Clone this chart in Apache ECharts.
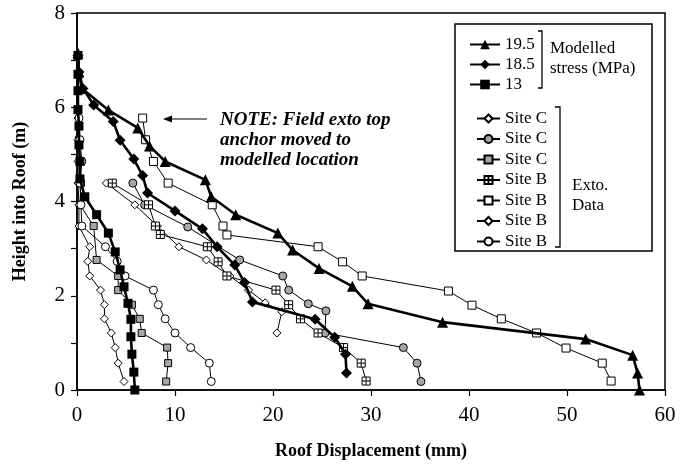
<!DOCTYPE html>
<html>
<head>
<meta charset="utf-8">
<script src="https://cdn.jsdelivr.net/npm/echarts@6/dist/echarts.min.js"></script>
<style>
  html, body { margin: 0; padding: 0; background: #fff; }
  #chart { width: 694px; height: 470px; }
</style>
</head>
<body>
<div id="chart"></div>
<script>
// Axis ticks
const xTicks = [0, 10, 20, 30, 40, 50, 60];
const yTicks = [0, 2, 4, 6, 8];

// Modelled roof displacement profiles [displacement mm, height m]
const model195 = [[0.1,7.15],[0.2,6.75],[0.5,6.4],[3.2,5.94],[6.2,5.56],[7.4,5.18],[9.0,4.85],[13.1,4.46],[13.7,4.1],[16.2,3.72],[20.5,3.33],[22.0,2.97],[24.7,2.58],[28.1,2.2],[29.7,1.83],[37.3,1.44],[51.9,1.08],[56.7,0.74],[57.2,0.36],[57.4,0]];
const model185 = [[0.1,7.1],[0.2,6.75],[0.6,6.4],[1.7,6.05],[3.7,5.7],[4.4,5.3],[5.8,4.9],[6.7,4.55],[7.2,4.18],[10.0,3.8],[12.8,3.42],[14.3,3.04],[16.1,2.65],[17.1,2.28],[17.9,1.87],[24.3,1.5],[26.3,1.12],[27.4,0.76],[27.5,0.36]];
const model13  = [[0.1,7.1],[0.1,6.7],[0.1,6.35],[0.1,5.95],[0.2,5.6],[0.2,5.2],[0.3,4.85],[0.3,4.48],[0.8,4.1],[2.0,3.72],[3.2,3.33],[3.9,2.93],[4.4,2.55],[4.8,2.19],[5.2,1.84],[5.5,1.5],[5.5,1.13],[5.6,0.76],[5.8,0.38],[5.9,0]];

// Extensometer readings [displacement mm, height m]
const siteC1 = [[3.0,4.39],[5.9,3.93],[8.2,3.48],[10.4,3.04],[13.2,2.76],[15.6,2.42],[17.5,2.12],[19.2,1.85],[20.9,1.66],[20.4,1.21]];
const siteC2 = [[5.7,4.39],[6.9,3.93],[11.3,3.46],[16.6,2.76],[21.0,2.42],[21.6,2.12],[23.6,1.83],[25.4,1.68],[25.3,1.21],[33.3,0.9],[34.7,0.57],[35.1,0.18]];
const siteC3 = [[0.2,5.31],[0.3,4.85],[0.4,4.39],[0.3,3.93],[1.7,3.48],[2.0,2.76],[4.2,2.42],[4.2,2.12],[5.6,1.81],[6.4,1.51],[6.6,1.21],[9.2,0.9],[9.3,0.57],[9.1,0.18]];
const siteB4 = [[3.6,4.39],[7.3,3.93],[8.0,3.48],[8.5,3.3],[13.3,3.04],[14.4,2.72],[15.3,2.42],[20.3,2.12],[21.6,1.81],[22.8,1.51],[24.6,1.21],[27.2,0.9],[29.0,0.57],[29.5,0.19]];
const siteB5 = [[6.7,5.77],[7.0,5.31],[7.8,4.85],[9.3,4.39],[13.8,3.93],[14.9,3.48],[15.3,3.29],[24.6,3.04],[27.1,2.72],[29.1,2.42],[37.9,2.1],[40.3,1.8],[43.3,1.51],[46.9,1.21],[49.9,0.89],[53.6,0.57],[54.5,0.19]];
const siteB6 = [[0.1,5.77],[0.1,5.31],[0.1,4.85],[0.1,4.39],[0.2,3.93],[0.2,3.48],[1.3,3.04],[1.1,2.73],[1.3,2.42],[2.4,2.12],[2.8,1.81],[2.8,1.51],[3.5,1.21],[3.9,0.9],[4.2,0.57],[4.8,0.18]];
const siteB7 = [[0.2,5.77],[0.3,5.31],[0.5,4.85],[0.3,4.39],[0.4,3.93],[0.5,3.48],[2.9,3.04],[4.1,2.73],[4.9,2.42],[7.8,2.12],[8.3,1.81],[9.0,1.51],[10.0,1.21],[11.6,0.9],[13.5,0.57],[13.7,0.18]];

const SERIF = '"Liberation Serif", "Times New Roman", serif';
const GREY = '#a6a6a6';
const crossSquare = 'path://M0,0L10,0L10,10L0,10Z M5,0L5,10 M0,5L10,5';

function modelled(name, data, symbol, size) {
  return {
    name, type: 'line', data, symbol, symbolSize: size,
    showSymbol: true, animation: false, z: 3,
    lineStyle: { color: '#000', width: 2.6 },
    itemStyle: { color: '#000', borderColor: '#000', borderWidth: 0 }
  };
}
function exto(name, data, symbol, fill, size) {
  return {
    name, type: 'line', data, symbol, symbolSize: size,
    showSymbol: true, animation: false, z: 2,
    lineStyle: { color: '#000', width: 1 },
    itemStyle: { color: fill, borderColor: '#000', borderWidth: 1 }
  };
}

const series = [
  modelled('19.5', model195, 'triangle', 11),
  modelled('18.5', model185, 'diamond', 11),
  modelled('13', model13, 'rect', 9),
  exto('Site C', siteC1, 'diamond', '#fff', 8),
  exto('Site C ', siteC2, 'circle', GREY, 8),
  exto('Site C  ', siteC3, 'rect', GREY, 7),
  exto('Site B', siteB4, crossSquare, '#fff', 8),
  exto('Site B ', siteB5, 'rect', '#fff', 8),
  exto('Site B  ', siteB6, 'diamond', '#fff', 8),
  exto('Site B   ', siteB7, 'circle', '#fff', 8)
];

const chart = echarts.init(document.getElementById('chart'), null, { renderer: 'canvas' });
chart.setOption({
  backgroundColor: '#fff',
  animation: false,
  grid: { left: 77, right: 29, top: 13, bottom: 80, show: true, borderColor: '#000', borderWidth: 1.5, backgroundColor: 'transparent' },
  xAxis: {
    type: 'value', min: xTicks[0], max: xTicks[xTicks.length - 1], interval: 10,
    name: 'Roof Displacement (mm)', nameLocation: 'middle', nameGap: 52,
    nameTextStyle: { fontFamily: SERIF, fontSize: 18, fontWeight: 'bold', color: '#000' },
    axisLine: { lineStyle: { color: '#000', width: 1.5 } },
    axisTick: { inside: false, length: 6, lineStyle: { color: '#000', width: 1.2 } },
    axisLabel: { fontFamily: SERIF, fontSize: 21, color: '#000', margin: 15 },
    splitLine: { show: false }
  },
  yAxis: {
    type: 'value', min: yTicks[0], max: yTicks[yTicks.length - 1], interval: 1,
    name: 'Height into Roof (m)', nameLocation: 'middle', nameGap: 48,
    nameTextStyle: { fontFamily: SERIF, fontSize: 18, fontWeight: 'bold', color: '#000' },
    axisLine: { lineStyle: { color: '#000', width: 1.5 } },
    axisTick: { inside: false, length: 6, lineStyle: { color: '#000', width: 1.2 } },
    axisLabel: {
      fontFamily: SERIF, fontSize: 21, color: '#000', margin: 12,
      formatter: v => (yTicks.indexOf(v) >= 0 ? String(v) : '')
    },
    splitLine: { show: false }
  },
  legend: [
    {
      data: ['19.5', '18.5', '13'], orient: 'vertical', left: 464, top: 31,
      itemWidth: 30, itemHeight: 12, itemGap: 3,
      textStyle: { fontFamily: SERIF, fontSize: 17, color: '#000' },
      selectedMode: false
    },
    {
      data: ['Site C', 'Site C ', 'Site C  ', 'Site B', 'Site B ', 'Site B  ', 'Site B   '],
      orient: 'vertical', left: 471, top: 105,
      itemWidth: 23, itemHeight: 10, itemGap: 3.5,
      textStyle: { fontFamily: SERIF, fontSize: 17, color: '#000' },
      selectedMode: false
    }
  ],
  graphic: [
    { type: 'rect', shape: { x: 455, y: 24, width: 197, height: 227 }, style: { fill: 'none', stroke: '#000', lineWidth: 1.5 }, z: 10 },
    { type: 'polyline', shape: { points: [[538, 31], [542, 31], [542, 88], [538, 88]] }, style: { fill: 'none', stroke: '#000', lineWidth: 1.3 }, z: 10 },
    { type: 'polyline', shape: { points: [[555, 107], [560, 107], [560, 247], [555, 247]] }, style: { fill: 'none', stroke: '#000', lineWidth: 1.3 }, z: 10 },
    { type: 'text', left: 550, top: 39, style: { text: 'Modelled\nstress (MPa)', font: '17px ' + SERIF, fill: '#000', lineHeight: 20 }, z: 10 },
    { type: 'text', left: 572, top: 176, style: { text: 'Exto.\nData', font: '17px ' + SERIF, fill: '#000', lineHeight: 20 }, z: 10 },
    { type: 'text', left: 220, top: 110, style: { text: 'NOTE: Field exto top\nanchor moved to\nmodelled location', font: 'italic bold 19px ' + SERIF, fill: '#000', lineHeight: 20 }, z: 10 },
    { type: 'line', shape: { x1: 207, y1: 119, x2: 165, y2: 119 }, style: { stroke: '#000', lineWidth: 1.2 }, z: 10 },
    { type: 'polygon', shape: { points: [[163, 119], [172, 115.5], [172, 122.5]] }, style: { fill: '#000' }, z: 10 }
  ],
  series
});
</script>
</body>
</html>
